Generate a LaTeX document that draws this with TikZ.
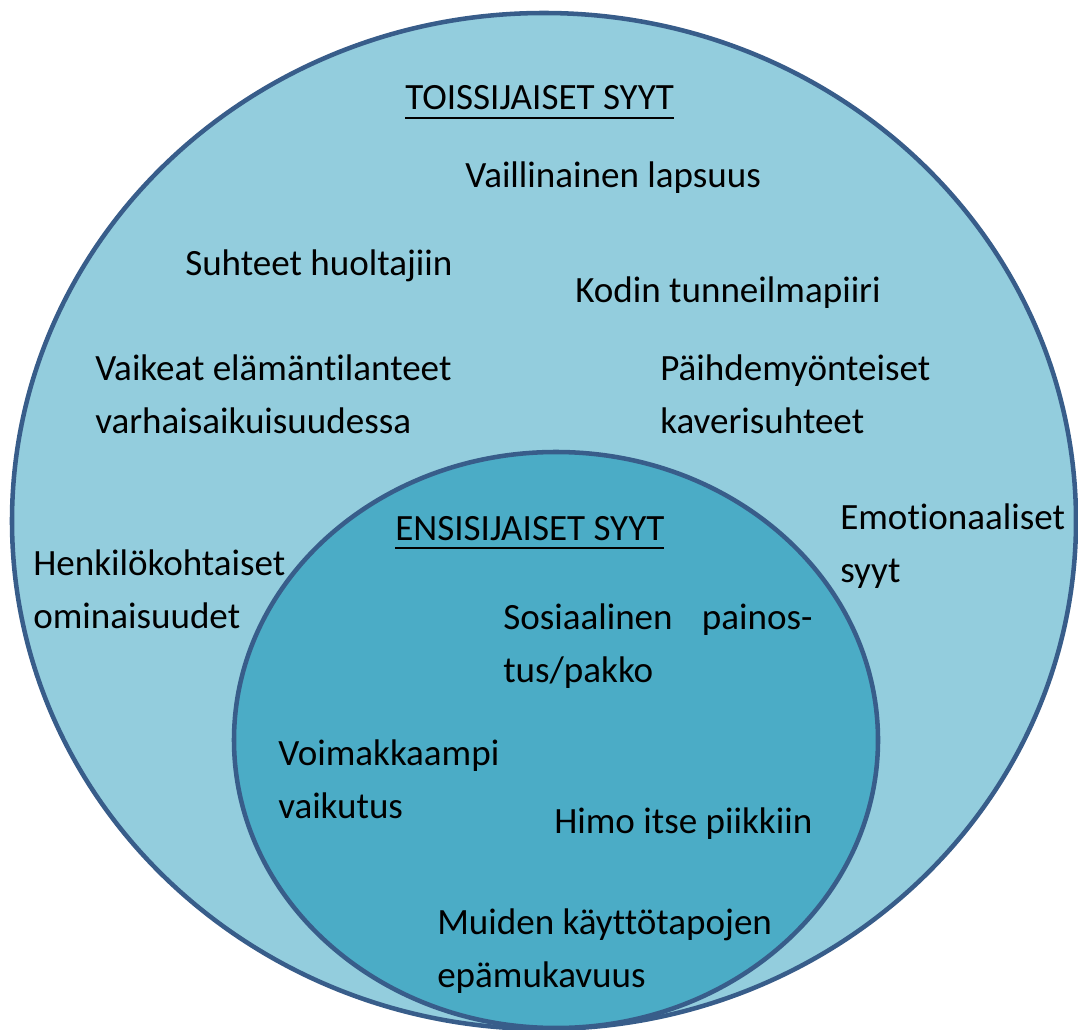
\documentclass[tikz,border=0pt]{standalone}
\usepackage{fontspec}
\setmainfont{Carlito}[Ligatures=NoCommon]
\usepackage{tikz}
\usetikzlibrary{positioning}

\definecolor{outerfill}{HTML}{93CDDD}
\definecolor{innerfill}{HTML}{4BACC6}
\definecolor{rimblue}{HTML}{385D8A}

\newcommand\headul[1]{\setbox0\hbox{#1}\rlap{\rule[-6.8pt]{\wd0}{1.9pt}}\box0}

\begin{document}
\begin{tikzpicture}[
    x=0.75pt, y=-0.75pt,
    every node/.style={align=left, inner sep=0pt, font=\fontsize{27.8}{40}\selectfont},
    cause/.style={anchor=west},
    heading/.style={anchor=base west},
    rim/.style={draw=rimblue, line width=3.4pt}
]
\useasboundingbox (0,0) rectangle (1078,1030);

% outer circle: secondary causes
\fill[outerfill] (544,521) ellipse [x radius=399pt, y radius=381pt];
\draw[rim] (544,521) ellipse [x radius=399pt, y radius=381pt];

% inner circle: primary causes
\fill[innerfill] (556,740) ellipse [x radius=241.5pt, y radius=216pt];
\draw[rim] (556,740) ellipse [x radius=241.5pt, y radius=216pt];

\node[heading] (toiss) at (405,110) {\headul{TOISSIJAISET SYYT}};
\node[cause] (lapsuus) at (465,178) {Vaillinainen lapsuus};
\node[cause] (huolt) at (185,266) {Suhteet huoltajiin};
\node[cause] (kodin) at (575,293) {Kodin tunneilmapiiri};
\node[cause] (vaikeat) at (95,394) {Vaikeat elämäntilanteet\\varhaisaikuisuudessa};
\node[cause] (paihde) at (660,394) {Päihdemyönteiset\\kaverisuhteet};
\node[cause] (emot) at (840,546) {Emotionaaliset\\syyt};
\node[cause] (henk) at (33,589) {Henkilökohtaiset\\ominaisuudet};

\node[heading] (ensis) at (395,540) {\headul{ENSISIJAISET SYYT}};
\node[cause, text width=232pt] (sosiaal) at (503,646) {Sosiaalinen \hfill painos-\\tus/pakko};
\node[cause] (voima) at (278,779) {Voimakkaampi\\vaikutus};
\node[cause] (himo) at (554,824) {Himo itse piikkiin};
\node[cause] (muiden) at (437,951) {Muiden käyttötapojen\\epämukavuus};
\end{tikzpicture}
\end{document}
